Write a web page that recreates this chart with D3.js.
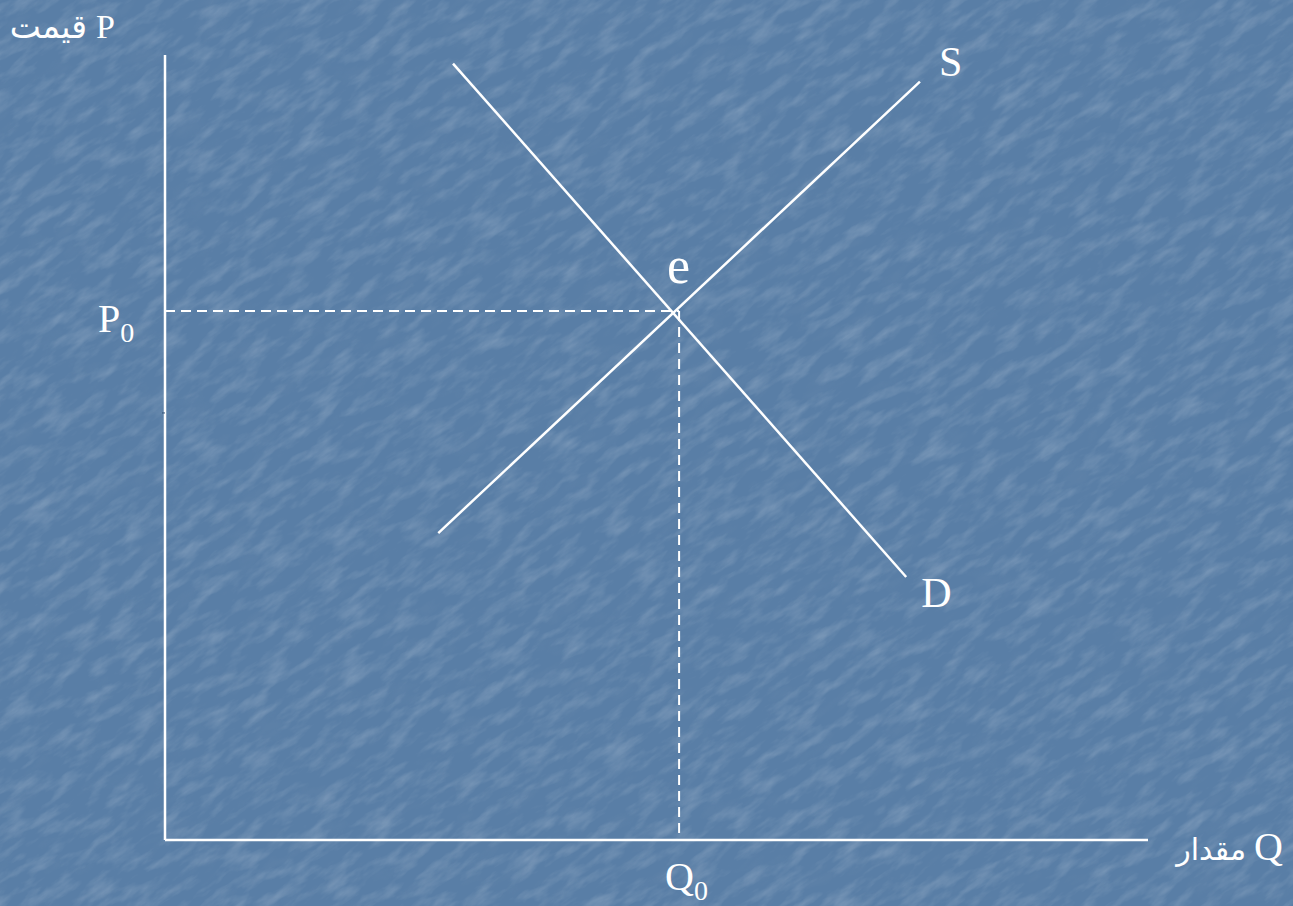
<!DOCTYPE html>
<html><head><meta charset="utf-8">
<script src="https://cdn.jsdelivr.net/npm/d3@7/dist/d3.min.js"></script>
<style>html,body{margin:0;padding:0;background:#597ea6;overflow:hidden}</style>
</head><body>
<script>
// Data (Q, P in 0..100 units)
const supply = [[27.8, 39.1], [76.8, 96.6]];
const demand = [[29.3, 98.9], [75.4, 33.5]];
const equilibrium = [52.3, 67.4];
const curveLabels = ["S", "D", "e"];
const axisLabels = ["P", "قيمت", "Q", "مقدار"];
const tickLabels = ["P", "Q"];

const W = 1293, H = 906;
const x = d3.scaleLinear().domain([0, 100]).range([165, 1148]);
const y = d3.scaleLinear().domain([0, 100]).range([840, 55]);

const svg = d3.select("body").append("svg").attr("width", W).attr("height", H);
const defs = svg.append("defs");
const f = defs.append("filter").attr("id", "tex").attr("filterUnits", "userSpaceOnUse")
  .attr("x", -600).attr("y", -600).attr("width", 2600).attr("height", 2200);
f.append("feTurbulence").attr("type", "fractalNoise").attr("baseFrequency", "0.03 0.09").attr("numOctaves", 4).attr("seed", 7).attr("result", "n");
f.append("feColorMatrix").attr("in", "n").attr("type", "matrix")
  .attr("values", "0 0 0 0 1  0 0 0 0 1  0 0 0 0 1  1.4 0 0 0 -0.62").attr("result", "w");
const g2 = defs.append("filter").attr("id", "tex2").attr("filterUnits", "userSpaceOnUse")
  .attr("x", -600).attr("y", -600).attr("width", 2600).attr("height", 2200);
g2.append("feTurbulence").attr("type", "fractalNoise").attr("baseFrequency", "0.025 0.07").attr("numOctaves", 3).attr("seed", 3).attr("result", "n");
g2.append("feColorMatrix").attr("in", "n").attr("type", "matrix")
  .attr("values", "0 0 0 0 0.2  0 0 0 0 0.3  0 0 0 0 0.45  -1.4 0 0 0 0.68");

svg.append("rect").attr("width", W).attr("height", H).attr("fill", "#597ea6");
const tg = svg.append("g").attr("transform", "rotate(-35 646 453)");
tg.append("rect").attr("x", -600).attr("y", -600).attr("width", 2600).attr("height", 2200).attr("filter", "url(#tex)").attr("opacity", 0.28);
tg.append("rect").attr("x", -600).attr("y", -600).attr("width", 2600).attr("height", 2200).attr("filter", "url(#tex2)").attr("opacity", 0.25);

const white = "#ffffff";
// axes
svg.append("line").attr("x1", x(0)).attr("x2", x(0)).attr("y1", y(0)).attr("y2", y(100))
  .attr("stroke", white).attr("stroke-width", 2.5);
svg.append("line").attr("x1", x(0)).attr("x2", x(100)).attr("y1", y(0)).attr("y2", y(0))
  .attr("stroke", white).attr("stroke-width", 2.5);
svg.append("line").attr("x1", x(0) - 3).attr("x2", x(0)).attr("y1", y(54.4)).attr("y2", y(54.4))
  .attr("stroke", "#2f4d73").attr("stroke-width", 1);

// dashed guides
svg.append("line").attr("x1", x(0)).attr("x2", x(equilibrium[0])).attr("y1", y(equilibrium[1])).attr("y2", y(equilibrium[1]))
  .attr("stroke", white).attr("stroke-width", 2).attr("stroke-dasharray", "10,6");
svg.append("line").attr("x1", x(equilibrium[0])).attr("x2", x(equilibrium[0])).attr("y1", y(equilibrium[1])).attr("y2", y(0))
  .attr("stroke", white).attr("stroke-width", 2).attr("stroke-dasharray", "10,6");

const line = d3.line().x(d => x(d[0])).y(d => y(d[1]));
[supply, demand].forEach(s => svg.append("path").attr("d", line(s)).attr("fill", "none")
  .attr("stroke", white).attr("stroke-width", 2.5));

const serif = "'Liberation Serif','Times New Roman',serif";
const arab = "'DejaVu Sans',sans-serif";
function txt(tx, ty, s, size, fam, anchor) {
  return svg.append("text").attr("x", tx).attr("y", ty).text(s).attr("fill", white)
    .attr("font-size", size).attr("font-family", fam).attr("text-anchor", anchor || "start");
}
// curve labels
txt(x(supply[1][0]) + 19, y(supply[1][1]) - 6, curveLabels[0], 42, serif);
txt(x(demand[1][0]) + 15, y(demand[1][1]) + 30, curveLabels[1], 42, serif);
txt(x(equilibrium[0]) - 12, y(equilibrium[1]) - 28, curveLabels[2], 52, serif);

// axis labels
txt(96, 38, axisLabels[0], 34, serif);
txt(87, 38, axisLabels[1], 33, arab, "end");
txt(1254, 860, axisLabels[2], 40, serif);
txt(1246, 860, axisLabels[3], 30, arab, "end");

// tick labels with subscripts
const p0 = txt(98, 332, tickLabels[0], 40, serif);
p0.append("tspan").attr("dy", 10).attr("font-size", 28).text("0");
const q0 = txt(665, 890, tickLabels[1], 40, serif);
q0.append("tspan").attr("dy", 10).attr("font-size", 28).text("0");
</script>
</body></html>
